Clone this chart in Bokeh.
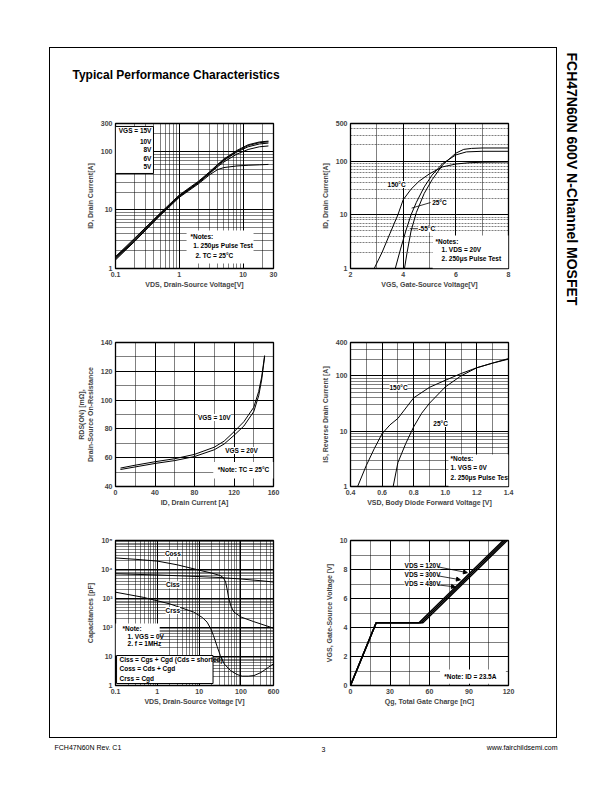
from bokeh.plotting import figure
from bokeh.layouts import row, column
from bokeh.models import FixedTicker, Range1d, Label, Arrow, NormalHead, Spacer
from bokeh.embed import file_html
from bokeh.resources import INLINE

FONT = "Liberation Sans"

# ---------------- data ----------------
# Figure 1: On-Region Characteristics
fig1_vds = [0.1, 0.2, 0.5, 1, 2, 3, 4, 5, 8, 12, 18, 25]
fig1_id_vgs15 = [1.6, 3.3, 8.8, 18, 31, 45, 60, 74, 104, 130, 145, 150]
fig1_id_vgs10 = [1.55, 3.2, 8.6, 17.6, 30, 44, 59, 72, 101, 126, 141, 146]
fig1_id_vgs8 = [1.5, 3.1, 8.4, 17.2, 29.5, 43, 57, 70, 98, 120, 134, 139]
fig1_id_vgs6 = [1.45, 3.0, 8.2, 16.8, 29, 42, 55, 66, 90, 108, 120, 124]
fig1_id_vgs5 = [1.4, 2.9, 8.0, 16.4, 28, 40, 49, 53, 56.5, 58, 59, 60]
fig1_legend = ["VGS = 15V", "10V", "8V", "6V", "5V"]
fig1_notes = ["*Notes:", "1. 250\u03bcs Pulse Test", "2. TC = 25\u00b0C"]
fig1_x_ticks = [0.1, 1, 10, 30]
fig1_x_labels = ["0.1", "1", "10", "30"]
fig1_x_minor = [0.2, 0.3, 0.4, 0.5, 0.6, 0.7, 0.8, 0.9, 2, 3, 4, 5, 6, 7, 8, 9, 20]
fig1_y_ticks = [1, 10, 100, 300]
fig1_y_labels = ["1", "10", "100", "300"]
fig1_y_minor = [2, 3, 4, 5, 6, 7, 8, 9, 20, 30, 40, 50, 60, 70, 80, 90, 200]

# Figure 2: Transfer Characteristics
fig2_vgs_150c = [2.9, 3.2, 3.5, 3.8, 4.0, 4.3, 4.6, 5.0, 5.5, 6.0, 6.5, 7.0, 8.0]
fig2_id_150c = [1, 2, 4.5, 10, 19, 30, 42, 58, 78, 88, 93, 95, 96]
fig2_vgs_25c = [3.7, 3.9, 4.1, 4.3, 4.5, 4.8, 5.1, 5.5, 6.0, 6.4, 7.0, 8.0]
fig2_id_25c = [1, 2.3, 5, 10, 17, 33, 55, 90, 130, 148, 152, 152]
fig2_vgs_m55c = [4.05, 4.15, 4.3, 4.5, 4.8, 5.1, 5.5, 6.0, 6.3, 6.6, 7.0, 8.0]
fig2_id_m55c = [1, 2, 5, 11, 25, 45, 85, 140, 165, 172, 175, 175]
fig2_curve_labels = ["150\u00b0C", "25\u00b0C", "-55\u00b0C"]
fig2_notes = ["*Notes:", "1. VDS = 20V", "2. 250\u03bcs Pulse Test"]
fig2_x_ticks = [2, 4, 6, 8]
fig2_x_labels = ["2", "4", "6", "8"]
fig2_x_minor = [3, 5, 7]
fig2_y_ticks = [1, 10, 100, 500]
fig2_y_labels = ["1", "10", "100", "500"]
fig2_y_minor = [2, 3, 4, 5, 6, 7, 8, 9, 20, 30, 40, 50, 60, 70, 80, 90, 200, 300, 400]

# Figure 3: On-Resistance vs Drain Current
fig3_id = [5, 20, 40, 60, 80, 100, 110, 120, 130, 140, 145, 148, 151]
fig3_rds_vgs10 = [52.8, 54.8, 57.2, 59.3, 62.3, 67.3, 71.5, 78, 85, 95, 106, 116, 131]
fig3_rds_vgs20 = [51.8, 53.6, 56.0, 58.0, 60.8, 65.5, 69.5, 75.5, 82, 92, 103, 114, 130]
fig3_curve_labels = ["VGS = 10V", "VGS = 20V"]
fig3_note = "*Note: TC = 25\u00b0C"
fig3_x_ticks = [0, 40, 80, 120, 160]
fig3_x_labels = ["0", "40", "80", "120", "160"]
fig3_x_minor = [20, 60, 100, 140]
fig3_y_ticks = [40, 60, 80, 100, 120, 140]
fig3_y_labels = ["40", "60", "80", "100", "120", "140"]
fig3_y_minor = [50, 70, 90, 110, 130]

# Figure 4: Body Diode Forward Voltage
fig4_vsd_150c = [0.445, 0.5, 0.55, 0.6, 0.65, 0.7, 0.8, 0.9, 1.0, 1.1, 1.2, 1.3, 1.4]
fig4_is_150c = [1, 2.4, 4.8, 9, 13, 17, 40, 62, 83, 110, 140, 170, 200]
fig4_vsd_25c = [0.67, 0.7, 0.75, 0.8, 0.85, 0.9, 1.0, 1.1, 1.2, 1.3, 1.4]
fig4_is_25c = [1, 2.7, 6, 12, 21, 32, 63, 100, 140, 170, 205]
fig4_curve_labels = ["150\u00b0C", "25\u00b0C"]
fig4_notes = ["*Notes:", "1. VGS = 0V", "2. 250\u03bcs Pulse Test"]
fig4_x_ticks = [0.4, 0.6, 0.8, 1.0, 1.2, 1.4]
fig4_x_labels = ["0.4", "0.6", "0.8", "1.0", "1.2", "1.4"]
fig4_x_minor = [0.5, 0.7, 0.9, 1.1, 1.3]
fig4_y_ticks = [1, 10, 100, 400]
fig4_y_labels = ["1", "10", "100", "400"]
fig4_y_minor = [2, 3, 4, 5, 6, 7, 8, 9, 20, 30, 40, 50, 60, 70, 80, 90, 200, 300]

# Figure 5: Capacitance Characteristics
fig5_vds_ciss = [0.1, 1, 10, 30, 100, 300, 600]
fig5_ciss = [7100, 6500, 5700, 5300, 4700, 4100, 3700]
fig5_vds_coss = [0.1, 0.3, 1, 3, 10, 20, 32, 38, 43, 47, 51, 58, 68, 100, 200, 400, 600]
fig5_coss = [25000, 22500, 19500, 14500, 9500, 7500, 6200, 5200, 3700, 2000, 1000, 530, 340, 230, 160, 115, 95]
fig5_vds_crss = [0.1, 0.46, 2, 7.4, 12, 15.5, 19, 22, 27, 32, 40, 56, 80, 107, 150, 205, 300, 450, 600]
fig5_crss = [1650, 1100, 650, 340, 220, 153, 90, 53, 22, 11, 5.5, 3.3, 2.4, 2.1, 2.1, 2.2, 2.8, 4.2, 5.6]
fig5_curve_labels = ["Coss", "Ciss", "Crss"]
fig5_notes = ["*Note:", "1. VGS = 0V", "2. f = 1MHz"]
fig5_formulas = ["Ciss = Cgs + Cgd (Cds = shorted)", "Coss = Cds + Cgd", "Crss = Cgd"]
fig5_x_ticks = [0.1, 1, 10, 100, 600]
fig5_x_labels = ["0.1", "1", "10", "100", "600"]
fig5_x_minor = [0.2, 0.3, 0.4, 0.5, 0.6, 0.7, 0.8, 0.9, 2, 3, 4, 5, 6, 7, 8, 9,
                20, 30, 40, 50, 60, 70, 80, 90, 200, 300, 400, 500]
fig5_y_ticks = [1, 10, 100, 1000, 10000, 100000]
fig5_y_labels = ["1", "10", "10\u00b2", "10\u00b3", "10\u2074", "10\u2075"]
fig5_y_minor = [m * d for d in (1, 10, 100, 1000, 10000) for m in (2, 3, 4, 5, 6, 7, 8, 9)]

# Figure 6: Gate Charge Characteristics
fig6_qg_120v = [0, 19.5, 52, 116]
fig6_vgs_120v = [0, 4.33, 4.33, 10]
fig6_qg_300v = [0, 19.5, 53.5, 117.5]
fig6_vgs_300v = [0, 4.33, 4.33, 10]
fig6_qg_480v = [0, 19.5, 55, 119]
fig6_vgs_480v = [0, 4.33, 4.33, 10]
fig6_curve_labels = ["VDS = 120V", "VDS = 300V", "VDS = 480V"]
fig6_note = "*Note: ID = 23.5A"
fig6_x_ticks = [0, 30, 60, 90, 120]
fig6_x_labels = ["0", "30", "60", "90", "120"]
fig6_x_minor = [15, 45, 75, 105]
fig6_y_ticks = [0, 2, 4, 6, 8, 10]
fig6_y_labels = ["0", "2", "4", "6", "8", "10"]
fig6_y_minor = [1, 3, 5, 7, 9]

# ---------------- layout (page pixels) ----------------
PAGE_X0, PAGE_Y0 = 0, 0          # where the layout's top-left lands on the page
PAGE_W, PAGE_H = 604, 784
FRAME_L, FRAME_T, FRAME_R, FRAME_B = 49, 47, 557, 738
IN_X0, IN_Y0 = FRAME_L + 1, FRAME_T + 1
IN_W = FRAME_R - FRAME_L - 2
COL_SPLIT = 312
ROW_Y = [90, 295, 512, FRAME_B - 1]
HEADER_H = ROW_Y[0] - IN_Y0
LEFT_FX = (115, 273)
RIGHT_FX = (350, 508)
ROW_FY = [(123, 268), (342, 486), (540, 685)]


def blank(w, h):
    p = figure(width=w, height=h, x_range=Range1d(0, w), y_range=Range1d(h, 0),
               output_backend="svg", toolbar_location=None,
               x_axis_location=None, y_axis_location=None,
               min_border=0, min_border_left=0, min_border_right=0,
               min_border_top=0, min_border_bottom=0)
    p.grid.visible = False
    p.outline_line_color = None
    p.background_fill_color = "white"
    p.border_fill_color = "white"
    return p


def txt(p, x, y, s, size="6.5px", bold=True, align="left", bg=None, units="data", angle=0):
    lab = Label(x=x, y=y, text=s, x_units=units, y_units=units,
                text_font=FONT, text_font_size=size,
                text_font_style="bold" if bold else "normal",
                text_align=align, text_baseline="middle", text_color="black",
                angle=angle, angle_units="deg")
    if bg is not None:
        lab.background_fill_color = bg
    p.add_layout(lab)
    return lab


def chart(col, rw, x_rng, y_rng, x_type, y_type, xt, xm, xl, yt, ym, yl, xtitle, ytitle):
    cx0 = IN_X0 if col == 0 else COL_SPLIT
    cx1 = COL_SPLIT if col == 0 else IN_X0 + IN_W
    cy0, cy1 = ROW_Y[rw], ROW_Y[rw + 1]
    fx0, fx1 = LEFT_FX if col == 0 else RIGHT_FX
    fy0, fy1 = ROW_FY[rw]
    p = figure(width=cx1 - cx0, height=cy1 - cy0, x_axis_type=x_type, y_axis_type=y_type,
               x_range=Range1d(*x_rng), y_range=Range1d(*y_rng),
               output_backend="svg", toolbar_location=None,
               min_border_left=fx0 - cx0, min_border_right=cx1 - fx1,
               min_border_top=fy0 - cy0, min_border_bottom=cy1 - fy1)
    p.background_fill_color = "white"
    p.border_fill_color = "white"
    p.outline_line_color = "black"
    p.outline_line_width = 1.3
    for ax, t, m, l, title, so in ((p.xaxis[0], xt, xm, xl, xtitle, 1),
                                    (p.yaxis[0], yt, ym, yl, ytitle, 4)):
        ax.ticker = FixedTicker(ticks=t, minor_ticks=m)
        ax.major_label_overrides = {k: v for k, v in zip(t, l)}
        ax.axis_label = title
        ax.axis_line_color = None
        ax.major_tick_line_color = None
        ax.minor_tick_line_color = None
        ax.major_tick_out = 0
        ax.major_tick_in = 0
        ax.minor_tick_out = 0
        ax.major_label_standoff = 3
        ax.major_label_text_font = FONT
        ax.major_label_text_font_size = "7px"
        ax.major_label_text_font_style = "bold"
        ax.axis_label_text_font = FONT
        ax.axis_label_text_font_size = "7px"
        ax.axis_label_text_font_style = "bold"
        ax.axis_label_standoff = so
    p.grid.grid_line_color = "black"
    p.grid.grid_line_width = 1
    p.grid.minor_grid_line_color = "black"
    p.grid.minor_grid_line_width = 0.5
    p._frame = (fx0, fy0, fx1, fy1)
    return p


def title(p, lines):
    fx0, fy0, fx1, fy1 = p._frame
    for (px, py, s) in lines:
        txt(p, px - fx0, fy1 - py, s, size="10px", units="screen")


def curve(p, x, y, w=1.0):
    p.line(x, y, line_color="black", line_width=w)


def whitebox(p, l, r, b, t, border=False):
    p.quad(left=[l], right=[r], bottom=[b], top=[t], fill_color="white",
           line_color="black" if border else None, line_width=1)


# ---------------- Figure 1 ----------------
f1 = chart(0, 0, (0.1, 30), (1, 300), "log", "log", fig1_x_ticks, fig1_x_minor, fig1_x_labels,
           fig1_y_ticks, fig1_y_minor, fig1_y_labels,
           "VDS, Drain-Source Voltage[V]", "ID, Drain Current[A]")
title(f1, [(99, 108, "Figure 1. On-Region Characteristics")])
whitebox(f1, 0.1, 0.394, 42, 267, border=True)
whitebox(f1, 1.3, 14.6, 1.22, 4.46)
for yv in (fig1_id_vgs15, fig1_id_vgs10, fig1_id_vgs8, fig1_id_vgs6, fig1_id_vgs5):
    curve(f1, fig1_vds, yv)
for s, yy in zip(fig1_legend, [228, 148, 108, 76, 55]):
    txt(f1, 0.366, yy, s, align="right")
for s, xx, yy in zip(fig1_notes, [1.5, 1.66, 1.79], [3.5, 2.47, 1.67]):
    txt(f1, xx, yy, s)

# ---------------- Figure 2 ----------------
f2 = chart(1, 0, (2, 8), (1, 500), "linear", "log", fig2_x_ticks, fig2_x_minor, fig2_x_labels,
           fig2_y_ticks, fig2_y_minor, fig2_y_labels,
           "VGS, Gate-Source Voltage[V]", "ID, Drain Current[A]")
f2.ygrid.minor_grid_line_dash = "2 1"
title(f2, [(333, 108, "Figure 2. Transfer Characteristics")])
whitebox(f2, 5.12, 8, 1, 4.1)
curve(f2, fig2_vgs_150c, fig2_id_150c)
curve(f2, fig2_vgs_25c, fig2_id_25c)
curve(f2, fig2_vgs_m55c, fig2_id_m55c)
f2.segment(x0=[4.32, 4.25], y0=[13.3, 5.5], x1=[5.04, 4.56], y1=[16.9, 5.5], line_color="black", line_width=0.8)
txt(f2, 3.75, 36.7, fig2_curve_labels[0], align="center", bg="white")
txt(f2, 5.1, 16.9, fig2_curve_labels[1], bg="white")
txt(f2, 4.58, 5.5, fig2_curve_labels[2], bg="white")
for s, xx, yy in zip(fig2_notes, [5.23, 5.46, 5.46], [3.18, 2.26, 1.53]):
    txt(f2, xx, yy, s)

# ---------------- Figure 3 ----------------
f3 = chart(0, 1, (0, 160), (40, 140), "linear", "linear", fig3_x_ticks, fig3_x_minor, fig3_x_labels,
           fig3_y_ticks, fig3_y_minor, fig3_y_labels,
           "ID, Drain Current [A]", "RDS(ON) [m\u03a9],\nDrain-Source On-Resistance")
title(f3, [(100, 305, "Figure 3. On-Resistance Variation vs."),
           (138, 317, "Drain Current and Gate Voltage")])
whitebox(f3, 99, 160, 45.5, 57)
curve(f3, fig3_id, fig3_rds_vgs10)
curve(f3, fig3_id, fig3_rds_vgs20)
txt(f3, 100, 88, fig3_curve_labels[0], align="center", bg="white")
txt(f3, 127.6, 65, fig3_curve_labels[1], align="center", bg="white")
txt(f3, 129.6, 51.5, fig3_note, align="center")

# ---------------- Figure 4 ----------------
f4 = chart(1, 1, (0.4, 1.4), (1, 400), "linear", "log", fig4_x_ticks, fig4_x_minor, fig4_x_labels,
           fig4_y_ticks, fig4_y_minor, fig4_y_labels,
           "VSD, Body Diode Forward Voltage [V]", "IS, Reverse Drain Current [A]")
title(f4, [(333, 305, "Figure 4. Body Diode Forward Voltage"),
           (378, 317, "Variation vs. Source Current"),
           (378, 328, "and Temperature")])
whitebox(f4, 1.02, 1.4, 1, 3.8)
curve(f4, fig4_vsd_150c, fig4_is_150c)
curve(f4, fig4_vsd_25c, fig4_is_25c)
txt(f4, 0.704, 62, fig4_curve_labels[0], align="center", bg="white")
txt(f4, 0.97, 13.8, fig4_curve_labels[1], align="center", bg="white")
for s, yy in zip(fig4_notes, [3.2, 2.2, 1.46]):
    txt(f4, 1.033, yy, s)

# ---------------- Figure 5 ----------------
f5 = chart(0, 2, (0.1, 600), (1, 100000), "log", "log", fig5_x_ticks, fig5_x_minor, fig5_x_labels,
           fig5_y_ticks, fig5_y_minor, fig5_y_labels,
           "VDS, Drain-Source Voltage [V]", "Capacitances [pF]")
title(f5, [(95, 525, "Figure 5. Capacitance Characteristics")])
whitebox(f5, 0.1, 1.14, 10.8, 138)
whitebox(f5, 0.106, 21.5, 1.17, 10.8, border=True)
curve(f5, fig5_vds_ciss, fig5_ciss)
curve(f5, fig5_vds_coss, fig5_coss)
curve(f5, fig5_vds_crss, fig5_crss)
for s, yy in zip(fig5_curve_labels, [35600, 3000, 385]):
    txt(f5, 2.35, yy, s, align="center", bg="white")
for s, xx, yy in zip(fig5_notes, [0.147, 0.194, 0.194], [92, 49, 28]):
    txt(f5, xx, yy, s)
for s, yy in zip(fig5_formulas, [7.9, 3.86, 1.74]):
    txt(f5, 0.125, yy, s)

# ---------------- Figure 6 ----------------
f6 = chart(1, 2, (0, 120), (0, 10), "linear", "linear", fig6_x_ticks, fig6_x_minor, fig6_x_labels,
           fig6_y_ticks, fig6_y_minor, fig6_y_labels,
           "Qg, Total Gate Charge [nC]", "VGS, Gate-Source Voltage [V]")
title(f6, [(337, 525, "Figure 6. Gate Charge Characteristics")])
whitebox(f6, 68, 118, 0.12, 1.1)
curve(f6, fig6_qg_120v, fig6_vgs_120v, 1.5)
curve(f6, fig6_qg_300v, fig6_vgs_300v, 1.5)
curve(f6, fig6_qg_480v, fig6_vgs_480v, 1.5)
for s, yy, xe, ye in zip(fig6_curve_labels, [8.26, 7.64, 7.01], [88.8, 83.5, 79.7], [7.78, 7.29, 6.8]):
    txt(f6, 54.7, yy, s, align="center", bg="white")
    f6.add_layout(Arrow(end=NormalHead(size=4, fill_color="black", line_color="black"),
                        x_start=66, y_start=yy - 0.07, x_end=xe, y_end=ye,
                        line_color="black", line_width=0.8))
txt(f6, 91, 0.62, fig6_note, align="center")

# ---------------- page furniture ----------------
header = blank(IN_W, HEADER_H)
txt(header, 72 - IN_X0, 74 - IN_Y0, "Typical Performance Characteristics", size="12px")

side = blank(PAGE_W - FRAME_R, FRAME_B - FRAME_T)
txt(side, 571 - FRAME_R, 52 - FRAME_T, "FCH47N60N 600V N-Channel MOSFET", size="14px", angle=-90)

footer = blank(PAGE_W - PAGE_X0, PAGE_H - FRAME_B)
txt(footer, 54 - PAGE_X0, 747 - FRAME_B, "FCH47N60N Rev. C1", size="7px", bold=False)
txt(footer, 323 - PAGE_X0, 749 - FRAME_B, "3", size="7px", bold=False, align="center")
txt(footer, FRAME_R - PAGE_X0, 747 - FRAME_B, "www.fairchildsemi.com", size="7px", bold=False, align="right")

framed = column(header, row(f1, f2), row(f3, f4), row(f5, f6),
                styles={"border": "1px solid black"})
page = column(Spacer(width=PAGE_W - PAGE_X0, height=FRAME_T - PAGE_Y0),
              row(Spacer(width=FRAME_L - PAGE_X0, height=FRAME_B - FRAME_T), framed, side),
              footer)

open("out.html", "w").write(file_html(page, INLINE))
